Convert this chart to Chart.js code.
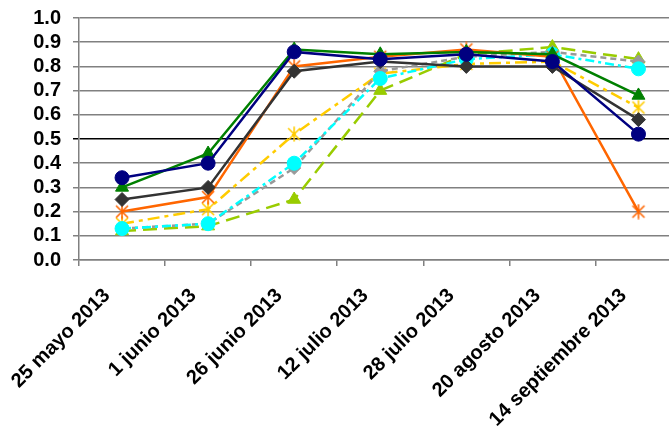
<!DOCTYPE html>
<html>
<head>
<meta charset="utf-8">
<script src="https://cdn.jsdelivr.net/npm/chart.js@4/dist/chart.umd.min.js"></script>
<style>
  html, body { margin: 0; padding: 0; background: #fff; overflow: hidden; }
  #wrap { width: 690px; height: 435px; }
</style>
</head>
<body>
<div id="wrap"><canvas id="chart" width="690" height="435"></canvas></div>
<script>
// Fechas de muestreo
const fechas = ['25 mayo 2013', '1 junio 2013', '26 junio 2013', '12 julio 2013', '28 julio 2013', '20 agosto 2013', '14 septiembre 2013'];

// Series
const serieAzul     = [0.34, 0.40, 0.86, 0.83, 0.85, 0.82, 0.52];
const serieVerde    = [0.30, 0.44, 0.87, 0.85, 0.86, 0.85, 0.68];
const serieGris     = [0.25, 0.30, 0.78, 0.82, 0.80, 0.80, 0.58];
const serieNaranja  = [0.20, 0.26, 0.80, 0.84, 0.87, 0.84, 0.20];
const serieAmarilla = [0.15, 0.21, 0.52, 0.77, 0.81, 0.82, 0.63];
const serieGrisClaro = [0.13, 0.15, 0.38, 0.78, 0.84, 0.86, 0.82];
const serieCian     = [0.13, 0.15, 0.40, 0.75, 0.83, 0.85, 0.79];
const serieLima     = [0.12, 0.14, 0.25, 0.70, 0.85, 0.88, 0.83];

const yTicks = [0, 0.1, 0.2, 0.3, 0.4, 0.5, 0.6, 0.7, 0.8, 0.9, 1.0];

const fuente = { family: 'Liberation Sans, Arial, sans-serif', size: 20, weight: 'bold' };

// Marcador asterisco tipo Excel (X + línea vertical)
function asterisco(color) {
    const c = document.createElement('canvas');
    c.width = 16; c.height = 16;
    const g = c.getContext('2d');
    g.strokeStyle = color;
    g.lineWidth = 1.6;
    g.beginPath();
    g.moveTo(2, 2); g.lineTo(14, 14);
    g.moveTo(14, 2); g.lineTo(2, 14);
    g.moveTo(8, 0.5); g.lineTo(8, 15.5);
    g.stroke();
    return c;
}

function serie(data, color, punto, radio, dash) {
    return {
        data: data,
        borderColor: color,
        backgroundColor: color,
        borderWidth: 2.5,
        borderDash: dash || [],
        pointStyle: punto === 'star' ? asterisco(color) : punto,
        pointRadius: radio,
        pointBorderWidth: 1,
        pointBorderColor: color,
        pointBackgroundColor: color,
        tension: 0,
        fill: false
    };
}

const ctx = document.getElementById('chart').getContext('2d');
const chart = new Chart(ctx, {
    type: 'line',
    data: {
        labels: fechas,
        datasets: [
            serie(serieAzul, '#000080', 'circle', 7),
            serie(serieVerde, '#008000', 'triangle', 7.5),
            serie(serieGris, '#333333', 'rectRot', 7),
            serie(serieNaranja, '#FF6600', 'star', 7.5),
            serie(serieCian, '#00FFFF', 'circle', 7, [9, 4, 3, 4]),
            serie(serieGrisClaro, '#999999', 'rectRot', 6.5, [6, 4]),
            serie(serieAmarilla, '#FFCC00', 'star', 7.5, [12, 5, 4, 5]),
            serie(serieLima, '#99CC00', 'triangle', 7.5, [14, 7])
        ]
    },
    options: {
        responsive: false,
        animation: false,
        devicePixelRatio: 1,
        layout: { padding: { left: 0, top: 18, right: 2, bottom: 0 } },
        plugins: {
            legend: { display: false },
            tooltip: { enabled: false }
        },
        scales: {
            x: {
                offset: true,
                grid: {
                    offset: true,
                    drawOnChartArea: false,
                    drawTicks: true,
                    tickLength: 6,
                    color: '#808080',
                    lineWidth: 1.5
                },
                border: { color: '#808080', width: 1.5 },
                ticks: {
                    color: '#000',
                    font: fuente,
                    minRotation: 45,
                    maxRotation: 45,
                    autoSkip: false,
                    padding: 18,
                    labelOffset: -15
                },
                afterFit(scale) {
                    scale.height = 175;
                    scale.paddingLeft = 0;
                    scale.paddingRight = 0;
                }
            },
            y: {
                min: 0,
                max: 1,
                afterBuildTicks(scale) {
                    scale.ticks = yTicks.map(v => ({ value: v }));
                },
                grid: {
                    color: ctx => (ctx.tick && Math.abs(ctx.tick.value - 0.5) < 1e-6) ? '#000' : '#808080',
                    lineWidth: 1.5,
                    tickLength: 6
                },
                border: { color: '#808080', width: 1.5 },
                ticks: {
                    color: '#000',
                    font: fuente,
                    autoSkip: false,
                    padding: 12,
                    callback: v => v.toFixed(1)
                },
                afterFit(scale) {
                    scale.width = 79;
                    scale.paddingTop = 0;
                    scale.paddingBottom = 0;
                }
            }
        }
    }
});
</script>
</body>
</html>
